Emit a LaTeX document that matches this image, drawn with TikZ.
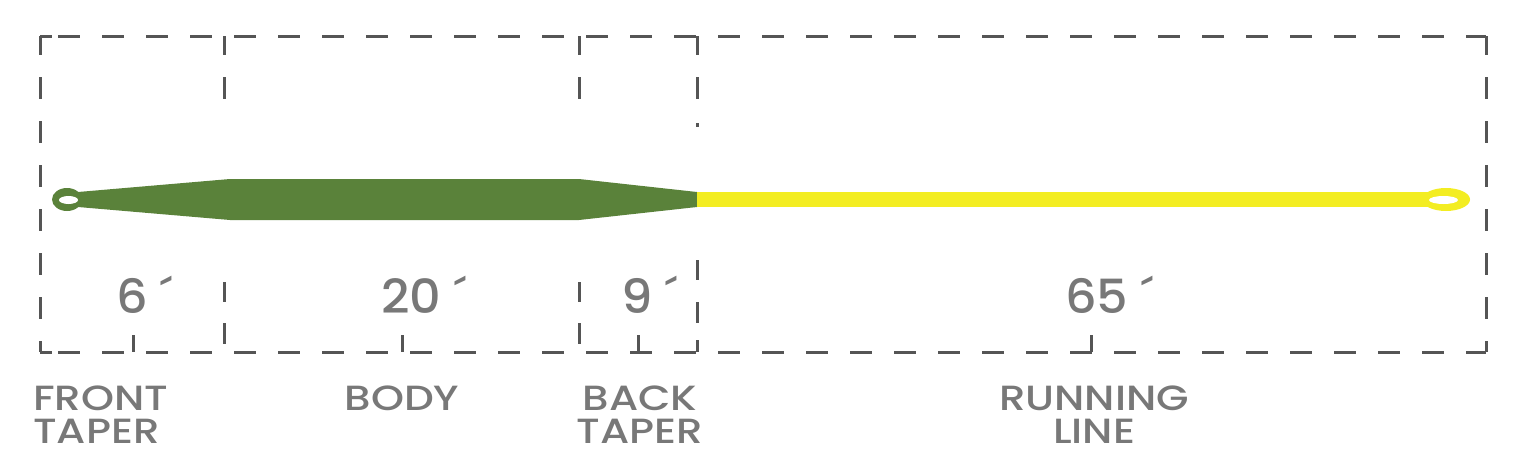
\documentclass[tikz,border=0pt]{standalone}
\usepackage{fontspec}
\setmainfont{Poppins}
\newfontfamily\lblfont{Poppins Medium}[FakeStretch=1.2]
\newfontfamily\numfont{Poppins Medium}[FakeStretch=1.05]
\definecolor{dashgray}{HTML}{555555}
\definecolor{textgray}{HTML}{787878}
\definecolor{flygreen}{HTML}{5A823A}
\definecolor{flyyellow}{HTML}{F3ED22}
\begin{document}
\begin{tikzpicture}[x=1pt,y=-1pt,
  hdash/.style={draw=dashgray,line width=3pt,dash pattern=on 22pt off 22pt,dash phase=26pt},
  vdash/.style={draw=dashgray,line width=3pt,dash pattern=on 22pt off 22pt,dash phase=3pt},
  seg/.style={draw=dashgray,line width=3pt},
  num/.style={text=textgray,inner sep=0pt,font=\numfont\fontsize{47}{47}\selectfont,anchor=base west},
  lbl/.style={text=textgray,inner sep=0pt,font=\lblfont\fontsize{35}{33}\selectfont,anchor=base}]
\useasboundingbox (0,0) rectangle (1533,458);
% outline
\draw[hdash] (40,36) -- (1486,36);
\draw[hdash] (40,352) -- (1486,352);
\draw[vdash] (40,36) -- (40,352);
\draw[vdash] (1486,36) -- (1486,352);
\draw[seg] (40,36) -- (52,36);
\draw[seg] (40,352) -- (52,352);
% dividers top
\foreach \x in {224,579,697} \draw[vdash] (\x,36) -- (\x,99);
\draw[seg] (697,123) -- (697,127);
% dividers bottom
\foreach \x in {224,579} {\draw[seg] (\x,282) -- (\x,302); \draw[seg] (\x,323) -- (\x,344);}
\draw[seg] (697,260) -- (697,280);
\draw[seg] (697,302) -- (697,323);
\draw[seg] (697,340) -- (697,352);
% ticks
\foreach \x in {133,402,638,1091} \draw[seg] (\x,335) -- (\x,352);
% fly line
\fill[flygreen] (67,199.5) ellipse [x radius=15pt, y radius=11.5pt];
\fill[flygreen] (78,192) -- (230,179) -- (579,179) -- (697,192) -- (697,207) -- (579,220) -- (230,220) -- (78,207) -- cycle;
\fill[white] (68.5,200) ellipse [x radius=9.5pt, y radius=4pt];
\fill[flyyellow] (697,192) rectangle (1436,207);
\fill[flyyellow] (1446,199.5) ellipse [x radius=24pt, y radius=11.5pt];
\fill[white] (1443.5,200) ellipse [x radius=14.5pt, y radius=4pt];
% numbers
\node[num] (n6) at (116,313) {6 ´};
\node[num] (n20) at (381,313) {20 ´};
\node[num] (n9) at (621,313) {9 ´};
\node[num] (n65) at (1065,313) {65 ´};
% labels
\node[lbl,align=left,anchor=base west] (front) at (33,443) {FRONT\\TAPER};
\node[lbl] (body) at (402,410) {BODY};
\node[lbl,align=center] (back) at (640,443) {BACK\\TAPER};
\node[lbl,align=center] (run) at (1094,443) {RUNNING\\LINE};
\end{tikzpicture}
\end{document}
